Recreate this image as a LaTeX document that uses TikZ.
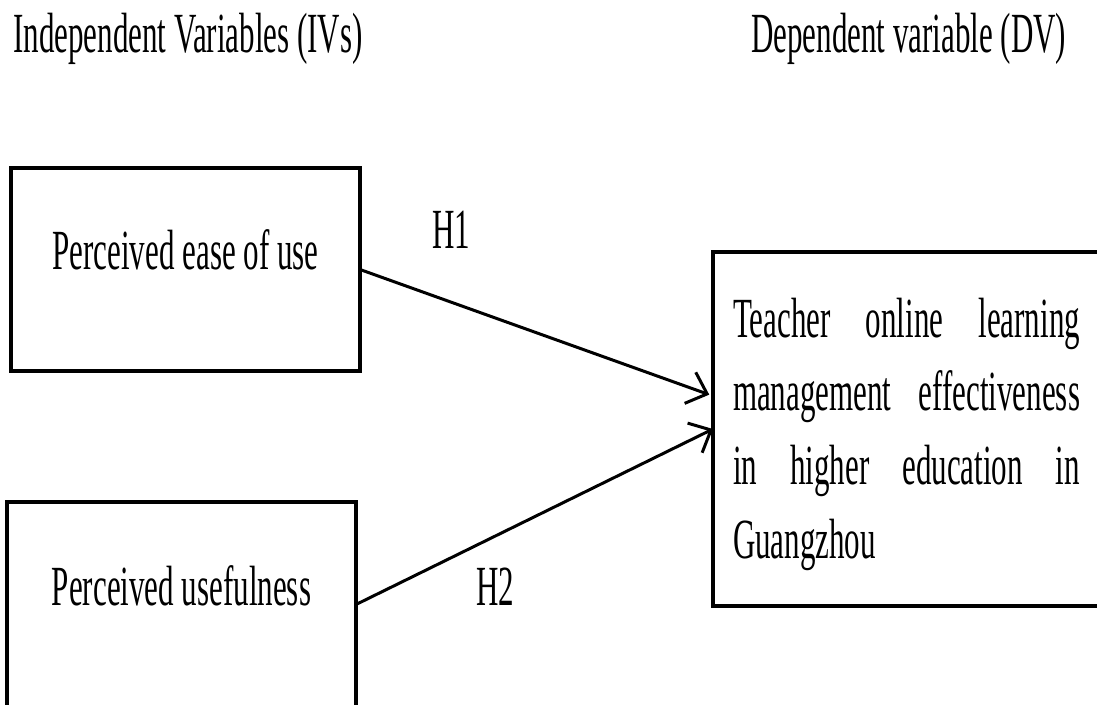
\documentclass[tikz,border=0pt]{standalone}
\usepackage{fontspec}
\setmainfont{Liberation Serif}
\newfontfamily\tnr{Liberation Serif}
\usepackage{graphicx}
\usetikzlibrary{arrows.meta}
\newcommand\vst[1]{\scalebox{1}[1.83]{#1}}
\tikzset{
  frame/.style={draw, line width=3.2pt, rectangle, inner ysep=0pt, outer sep=0pt,
    anchor=north west, font=\tnr\fontsize{31}{40.26}\selectfont},
  lbl/.style={inner sep=0pt, anchor=base west, font=\tnr\fontsize{31}{37}\selectfont},
  link/.style={line width=3pt, -{Straight Barb[length=18pt,width=33pt]}}
}
\begin{document}
\begin{tikzpicture}[x=1pt,y=-1pt]
\useasboundingbox (0,0) rectangle (1097,704);
\clip (0,0) rectangle (1097,704);
\node[lbl] (ivs) at (13,52) {\vst{Independent Variables (IVs)}};
\node[lbl] (dvh) at (751,52) {\vst{Dependent variable (DV)}};
\node[frame, minimum width=349pt, text height=101pt, text depth=102pt] (peou) at (11,168)
  {\vst{Perceived ease of use}};
\node[frame, minimum width=349pt, text height=103pt, text depth=102pt] (pu) at (7,502)
  {\vst{Perceived usefulness}};
\node[frame, inner xsep=20pt, text height=85pt, text depth=269pt] (dv) at (713,252)
  {\vst{\parbox[t]{347pt}{\makebox[347pt][s]{Teacher online learning}\\
  \makebox[347pt][s]{management effectiveness}\\
  \makebox[347pt][s]{in higher education in}\\
  Guangzhou}}};
\node[lbl] (h1) at (432,248) {\vst{H1}};
\node[lbl] (h2) at (476,605) {\vst{H2}};
\draw[link, shorten >=4pt] (peou.east) -- ([yshift=33pt]dv.west);
\draw[link] (pu.east) -- (dv.west);
\end{tikzpicture}
\end{document}
